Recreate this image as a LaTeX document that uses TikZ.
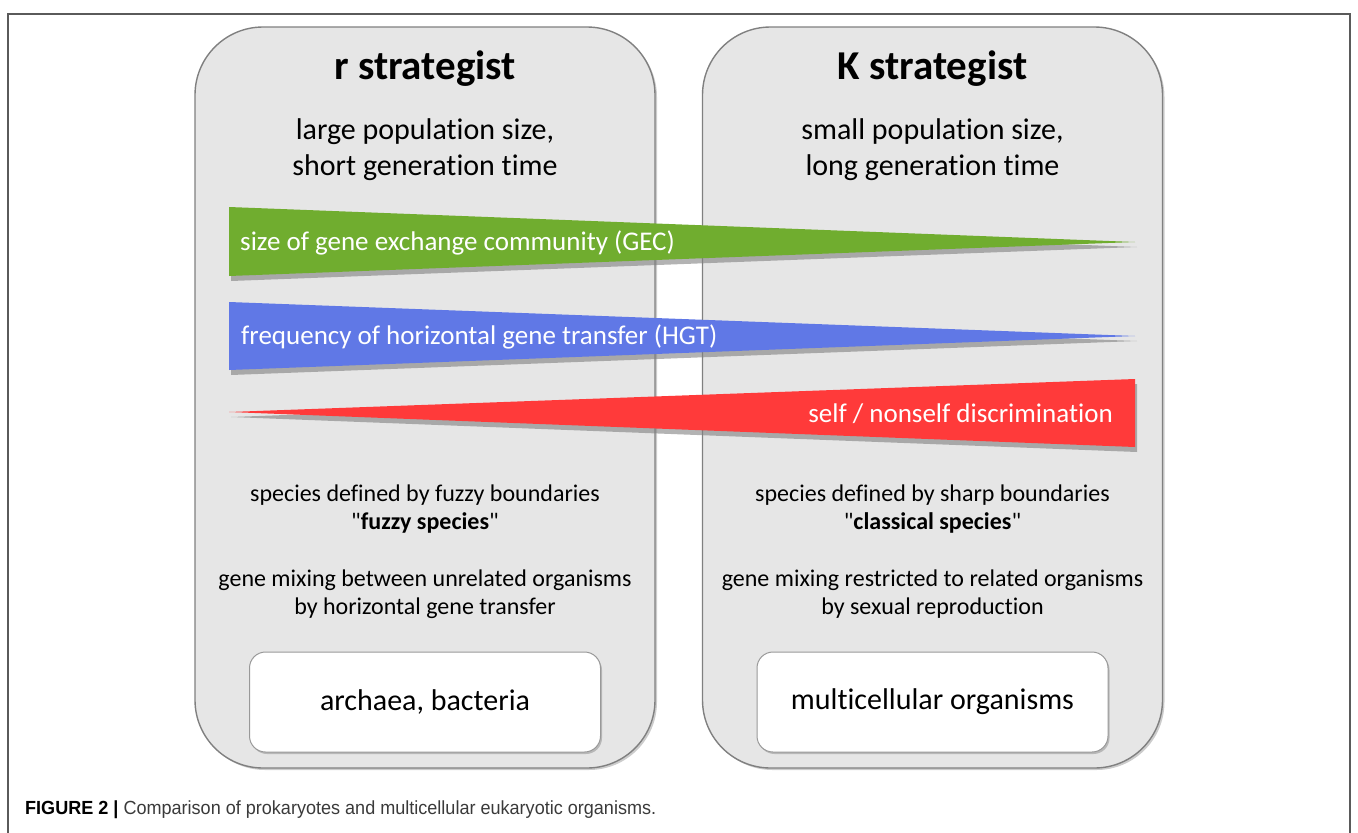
\documentclass[tikz,border=0pt]{standalone}
\usepackage{fontspec}
\setmainfont{Carlito}[Ligatures={TeX,NoCommon}]
\newfontfamily\capfont[FakeStretch=0.95]{Liberation Sans}
\usetikzlibrary{shadows}

\definecolor{boxgray}{HTML}{E6E6E6}
\definecolor{gecgreen}{HTML}{70AD2F}
\definecolor{hgtblue}{HTML}{6078E6}
\definecolor{selfred}{HTML}{FF3A3A}
\definecolor{framegray}{HTML}{5A5A5A}
\definecolor{captext}{HTML}{3A3A3A}

\tikzset{
  strategybox/.style={draw=black!50, line width=1.4pt, fill=boxgray, rounded corners=68pt,
    minimum width=460pt, minimum height=741pt,
    drop shadow={shadow xshift=2pt, shadow yshift=-2pt, opacity=.4}},
  groupbox/.style={draw=black!40, line width=1pt, fill=white, rounded corners=16pt,
    minimum width=351pt, minimum height=100pt,
    drop shadow={shadow xshift=1.5pt, shadow yshift=-2pt, opacity=.45},
    font=\fontsize{30}{36}\selectfont},
  title/.style={font=\fontsize{41}{48}\selectfont\bfseries},
  traits/.style={font=\fontsize{30}{36}\selectfont, align=center},
  notes/.style={font=\fontsize{24}{28}\selectfont, align=center},
  wedge/.style={drop shadow={shadow xshift=2pt, shadow yshift=-5pt, opacity=.6}},
  wedgetext/.style={text=white, font=\fontsize{27}{32}\selectfont, inner sep=0pt},
}

\begin{document}
\begin{tikzpicture}[x=1pt, y=-1pt]
    \useasboundingbox (0,0) rectangle (1358,833);
    % Draw the figure frame (open at the bottom)
    \draw[framegray, line width=1.2pt] (8,833) |- (1350,14) -- (1350,833);

    % Draw the two strategy panels
    \foreach \n/\cx/\lbl in {r/425/r strategist, K/932.5/K strategist} {
        \node[strategybox] (box\n) at (\cx,397.5) {};
        \node[title] (title\n) at (\cx,69) {\lbl};
    }

    % Population traits
    \node[traits] (traitsr) at (425,150) {large population size,\\short generation time};
    \node[traits] (traitsK) at (932.5,150) {small population size,\\long generation time};

    % Draw the wedges
    \fill[gecgreen, wedge] (229,207) -- (1135,242) -- (229,276) -- cycle;
    \fill[hgtblue, wedge] (229,302) -- (1135,336) -- (229,370) -- cycle;
    \fill[selfred, wedge] (229,412) -- (1135,379) -- (1135,447) -- cycle;
    \node[wedgetext, anchor=west] (gec) at (240,243) {size of gene exchange community (GEC)};
    \node[wedgetext, anchor=west] (hgt) at (241,337) {frequency of horizontal gene transfer (HGT)};
    \node[wedgetext, anchor=east] (self) at (1113,414) {self / nonself discrimination};

    % Species notes
    \node[notes] (speciesr) at (425,509) {species defined by fuzzy boundaries\\\textquotedbl\textbf{fuzzy species}\textquotedbl};
    \node[notes] (speciesK) at (932.5,509) {species defined by sharp boundaries\\\textquotedbl\textbf{classical species}\textquotedbl};
    \node[notes] (mixingr) at (425,594) {gene mixing between unrelated organisms\\by horizontal gene transfer};
    \node[notes] (mixingK) at (932.5,594) {gene mixing restricted to related organisms\\by sexual reproduction};

    % Organism groups
    \node[groupbox] (groupr) at (425,702) {\raisebox{-3pt}{archaea, bacteria}};
    \node[groupbox] (groupK) at (932.5,702) {\raisebox{-3pt}{multicellular organisms}};

    % Caption
    \node[anchor=base west, inner sep=0pt, text=captext] (caption) at (25,814)
        {\capfont\fontsize{19}{22}\selectfont\textbf{\color{black}FIGURE 2 |} Comparison of prokaryotes and multicellular eukaryotic organisms.};
\end{tikzpicture}
\end{document}
